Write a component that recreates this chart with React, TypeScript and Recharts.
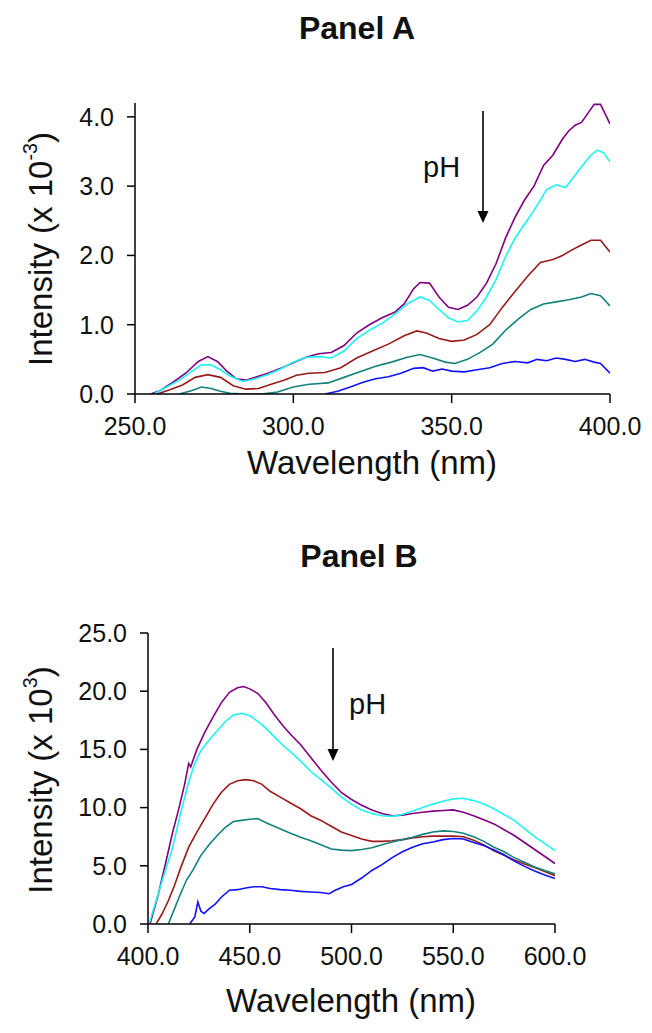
import { Line, LineChart, XAxis, YAxis } from "recharts";

// Excel-ish default series colours
const VIOLET = "#800080";
const TURQUOISE = "#1ef4f4";
const DARK_RED = "#991a1a";
const TEAL = "#13827c";
const BLUE = "#1010ff";
const FONT = '"Liberation Sans", Arial, sans-serif';

// Panel A – excitation spectra, [wavelength nm, intensity x10^-3]
const aViolet: [number, number][] = [
  [255, 0], [258, 0.05], [262, 0.17], [266, 0.3], [270, 0.47], [273, 0.54], [276, 0.47],
  [279, 0.33], [282, 0.22], [285, 0.2], [288, 0.24], [292, 0.3], [296, 0.37], [300, 0.45],
  [304, 0.53], [308, 0.58], [312, 0.6], [316, 0.7], [320, 0.88], [324, 1.0], [328, 1.1],
  [332, 1.18], [335, 1.3], [338, 1.52], [340, 1.61], [343, 1.6], [346, 1.4], [349, 1.25],
  [352, 1.22], [355, 1.28], [358, 1.4], [361, 1.6], [364, 1.88], [367, 2.25], [370, 2.55],
  [373, 2.8], [376, 3.0], [379, 3.3], [382, 3.45], [385, 3.68], [387, 3.8], [389, 3.88],
  [391, 3.92], [393, 4.05], [395, 4.18], [397, 4.18], [400, 3.9],
];
const aTurquoise: [number, number][] = [
  [256, 0], [260, 0.1], [264, 0.2], [268, 0.33], [271, 0.42], [274, 0.42], [277, 0.35],
  [280, 0.26], [284, 0.18], [288, 0.22], [292, 0.28], [296, 0.36], [300, 0.46], [304, 0.53],
  [308, 0.54], [312, 0.52], [316, 0.62], [320, 0.8], [324, 0.92], [328, 1.02], [332, 1.15],
  [336, 1.3], [340, 1.4], [343, 1.35], [346, 1.22], [349, 1.1], [352, 1.04], [355, 1.06],
  [358, 1.2], [361, 1.4], [364, 1.65], [367, 1.98], [370, 2.25], [373, 2.45], [376, 2.65],
  [380, 2.95], [383, 3.02], [386, 2.98], [388, 3.1], [391, 3.28], [394, 3.45], [396, 3.52],
  [398, 3.48], [400, 3.35],
];
const aDarkRed: [number, number][] = [
  [257, 0], [261, 0.06], [265, 0.13], [269, 0.24], [273, 0.28], [277, 0.24], [281, 0.12],
  [285, 0.07], [289, 0.08], [293, 0.14], [297, 0.2], [301, 0.27], [305, 0.3], [310, 0.31],
  [315, 0.38], [320, 0.52], [325, 0.62], [330, 0.72], [335, 0.84], [339, 0.91], [342, 0.88],
  [346, 0.8], [350, 0.76], [354, 0.78], [358, 0.86], [362, 1.0], [366, 1.25], [370, 1.48],
  [374, 1.7], [378, 1.9], [382, 1.94], [385, 2.0], [388, 2.08], [391, 2.15], [394, 2.22],
  [397, 2.22], [400, 2.05],
];
const aTeal: [number, number][] = [
  [264, 0], [268, 0.05], [271, 0.1], [274, 0.08], [277, 0.04], [280, 0.01], [285, 0],
  [290, 0], [295, 0.03], [300, 0.1], [305, 0.14], [311, 0.16], [316, 0.24], [321, 0.32],
  [326, 0.4], [331, 0.46], [336, 0.53], [340, 0.57], [344, 0.52], [348, 0.46], [351, 0.44],
  [355, 0.5], [359, 0.6], [363, 0.72], [367, 0.92], [371, 1.08], [375, 1.22], [379, 1.3],
  [383, 1.33], [387, 1.36], [391, 1.4], [394, 1.45], [397, 1.42], [400, 1.27],
];
const aBlue: [number, number][] = [
  [310, 0], [314, 0.04], [318, 0.1], [322, 0.17], [326, 0.22], [330, 0.25], [334, 0.3],
  [338, 0.37], [341, 0.38], [344, 0.33], [347, 0.36], [350, 0.33], [354, 0.32], [358, 0.35],
  [362, 0.38], [366, 0.44], [370, 0.47], [374, 0.45], [377, 0.5], [380, 0.48], [383, 0.52],
  [386, 0.5], [389, 0.47], [392, 0.5], [395, 0.46], [397, 0.44], [400, 0.3],
];

// Panel B – emission spectra, [wavelength nm, intensity x10^3]
const bViolet: [number, number][] = [
  [401, 0], [405, 2.5], [409, 5.5], [412, 7.8], [415, 9.8], [418, 12.0], [420, 13.8],
  [421, 13.5], [424, 15.0], [428, 16.5], [432, 17.8], [436, 19.0], [440, 19.9], [444, 20.3],
  [447, 20.4], [450, 20.2], [454, 19.8], [458, 19.0], [462, 18.0], [466, 17.1], [470, 16.3],
  [475, 15.4], [480, 14.3], [485, 13.2], [490, 12.2], [495, 11.3], [500, 10.7], [505, 10.2],
  [510, 9.8], [515, 9.5], [520, 9.3], [525, 9.35], [530, 9.5], [535, 9.6], [540, 9.7],
  [545, 9.75], [550, 9.8], [555, 9.6], [560, 9.3], [565, 8.95], [570, 8.6], [575, 8.1],
  [580, 7.6], [585, 7.0], [590, 6.4], [595, 5.8], [600, 5.2],
];
const bTurquoise: [number, number][] = [
  [400.5, 0], [404, 2.0], [408, 4.3], [412, 6.5], [416, 9.5], [420, 12.2], [423, 13.8],
  [426, 14.9], [430, 15.8], [434, 16.6], [438, 17.4], [442, 17.95], [446, 18.1], [450, 17.9],
  [454, 17.4], [458, 16.8], [462, 16.1], [466, 15.4], [470, 14.8], [475, 14.0], [480, 13.1],
  [485, 12.4], [490, 11.7], [495, 10.9], [500, 10.3], [505, 9.8], [510, 9.5], [515, 9.3],
  [520, 9.25], [525, 9.4], [530, 9.7], [535, 10.0], [540, 10.3], [545, 10.55], [550, 10.75],
  [555, 10.8], [560, 10.6], [565, 10.3], [570, 9.9], [575, 9.4], [580, 8.9], [585, 8.2],
  [590, 7.5], [595, 6.9], [600, 6.3],
];
const bDarkRed: [number, number][] = [
  [404, 0], [407, 0.9], [410, 2.0], [413, 3.3], [416, 4.8], [420, 6.6], [424, 7.9],
  [428, 9.1], [432, 10.3], [436, 11.3], [440, 12.0], [444, 12.3], [448, 12.4], [452, 12.3],
  [456, 12.0], [460, 11.4], [465, 10.9], [470, 10.4], [475, 9.9], [480, 9.3], [485, 8.9],
  [490, 8.4], [495, 7.9], [500, 7.6], [505, 7.3], [510, 7.1], [515, 7.1], [520, 7.15],
  [525, 7.25], [530, 7.4], [535, 7.5], [540, 7.55], [545, 7.55], [550, 7.55], [555, 7.5],
  [560, 7.2], [565, 6.8], [570, 6.3], [575, 5.9], [580, 5.5], [585, 5.15], [590, 4.85],
  [595, 4.5], [600, 4.15],
];
const bTeal: [number, number][] = [
  [410, 0], [413, 1.3], [416, 2.6], [419, 3.8], [422, 4.6], [426, 5.9], [430, 6.8],
  [434, 7.6], [438, 8.3], [442, 8.8], [446, 8.9], [450, 9.0], [454, 9.05], [458, 8.7],
  [462, 8.4], [466, 8.1], [470, 7.8], [475, 7.45], [480, 7.15], [485, 6.8], [490, 6.45],
  [495, 6.35], [500, 6.3], [505, 6.4], [510, 6.55], [515, 6.8], [520, 7.05], [525, 7.25],
  [530, 7.45], [535, 7.7], [540, 7.9], [545, 8.0], [550, 7.95], [555, 7.8], [560, 7.5],
  [565, 7.1], [570, 6.6], [575, 6.2], [580, 5.7], [585, 5.3], [590, 4.9], [595, 4.6],
  [600, 4.3],
];
const bBlue: [number, number][] = [
  [420.5, 0], [423, 0.6], [424.5, 1.9], [426, 1.1], [427.5, 0.9], [430, 1.3], [433, 1.7],
  [436, 2.3], [440, 2.9], [444, 2.95], [448, 3.1], [452, 3.2], [456, 3.2], [460, 3.05],
  [465, 2.95], [470, 2.9], [475, 2.8], [480, 2.75], [485, 2.7], [489, 2.6], [492, 2.9],
  [496, 3.2], [500, 3.4], [505, 3.95], [510, 4.6], [515, 5.1], [520, 5.7], [525, 6.2],
  [530, 6.6], [535, 6.9], [540, 7.05], [545, 7.25], [550, 7.35], [555, 7.3], [560, 7.0],
  [565, 6.75], [570, 6.35], [575, 5.95], [580, 5.4], [585, 4.95], [590, 4.55], [595, 4.2],
  [600, 3.9],
];

const aXTicks = [250, 300, 350, 400];
const aYTicks = [0, 1, 2, 3, 4];
const bXTicks = [400, 450, 500, 550, 600];
const bYTicks = [0, 5, 10, 15, 20, 25];

const TICK = { fontSize: 25, fill: "#111", fontFamily: FONT } as const;
const AXIS_LINE = { stroke: "#000", strokeWidth: 1.5 };

const toRows = (pts: [number, number][]) => pts.map(([w, v]) => ({ w, v }));
const fmt = (v: number) => Number(v).toFixed(1);

function Spectra({
  series,
  xDomain,
  xTicks,
  yDomain,
  yTicks,
  width,
  height,
  margin,
  yAxisWidth,
}: {
  series: { pts: [number, number][]; color: string; name: string }[];
  xDomain: [number, number];
  xTicks: number[];
  yDomain: [number, number];
  yTicks: number[];
  width: number;
  height: number;
  margin: { top: number; right: number; bottom: number; left: number };
  yAxisWidth: number;
}) {
  return (
    <LineChart width={width} height={height} margin={margin}>
      <XAxis
        type="number"
        dataKey="w"
        domain={xDomain}
        ticks={xTicks}
        allowDataOverflow
        tick={TICK}
        tickFormatter={fmt}
        tickSize={9}
        tickMargin={14}
        height={50}
        axisLine={AXIS_LINE}
        tickLine={AXIS_LINE}
      />
      <YAxis
        type="number"
        dataKey="v"
        domain={yDomain}
        ticks={yTicks}
        allowDataOverflow
        tick={TICK}
        tickFormatter={fmt}
        tickSize={8}
        tickMargin={13}
        width={yAxisWidth}
        axisLine={AXIS_LINE}
        tickLine={AXIS_LINE}
      />
      {series.map((s) => (
        <Line
          key={s.name}
          name={s.name}
          data={toRows(s.pts)}
          dataKey="v"
          type="linear"
          stroke={s.color}
          strokeWidth={1.6}
          dot={false}
          activeDot={false}
          isAnimationActive={false}
        />
      ))}
    </LineChart>
  );
}

function PhArrow({ x, y1, y2, textX, textY }: { x: number; y1: number; y2: number; textX: number; textY: number }) {
  return (
    <svg width={652} height={1033} style={{ position: "absolute", left: 0, top: 0, pointerEvents: "none" }}>
      <line x1={x} y1={y1} x2={x} y2={y2 - 10} stroke="#000" strokeWidth={1.6} />
      <polygon points={`${x - 5.5},${y2 - 12} ${x + 5.5},${y2 - 12} ${x},${y2}`} fill="#000" />
      <text x={textX} y={textY} fontSize={29} fontFamily={FONT} fill="#111">
        pH
      </text>
    </svg>
  );
}

const abs = (style: React.CSSProperties): React.CSSProperties => ({
  position: "absolute",
  fontFamily: FONT,
  color: "#111",
  lineHeight: 1,
  whiteSpace: "nowrap",
  transform: "translate(-50%, -50%)",
  ...style,
});

export default function App() {
  const seriesA = [
    { name: "pH 1", pts: aViolet, color: VIOLET },
    { name: "pH 2", pts: aTurquoise, color: TURQUOISE },
    { name: "pH 3", pts: aDarkRed, color: DARK_RED },
    { name: "pH 4", pts: aTeal, color: TEAL },
    { name: "pH 5", pts: aBlue, color: BLUE },
  ];
  const seriesB = [
    { name: "pH 1", pts: bViolet, color: VIOLET },
    { name: "pH 2", pts: bTurquoise, color: TURQUOISE },
    { name: "pH 3", pts: bDarkRed, color: DARK_RED },
    { name: "pH 4", pts: bTeal, color: TEAL },
    { name: "pH 5", pts: bBlue, color: BLUE },
  ];

  return (
    <div style={{ position: "absolute", left: 0, top: 0, width: 652, height: 1033, background: "#fff" }}>
      <div style={{ position: "absolute", left: 0, top: 0 }}>
        <Spectra
          series={seriesA}
          xDomain={[250, 400]}
          xTicks={aXTicks}
          yDomain={[0, 4.2]}
          yTicks={aYTicks}
          width={652}
          height={480}
          margin={{ top: 103, right: 42, bottom: 36, left: 0 }}
          yAxisWidth={135}
        />
      </div>
      <div style={{ position: "absolute", left: 0, top: 520 }}>
        <Spectra
          series={seriesB}
          xDomain={[400, 600]}
          xTicks={bXTicks}
          yDomain={[0, 25]}
          yTicks={bYTicks}
          width={652}
          height={513}
          margin={{ top: 113, right: 97, bottom: 59, left: 0 }}
          yAxisWidth={148}
        />
      </div>

      <div style={abs({ left: 357, top: 28, fontSize: 32, fontWeight: 700 })}>Panel A</div>
      <div style={abs({ left: 359, top: 556, fontSize: 32, fontWeight: 700 })}>Panel B</div>

      <div style={abs({ left: 372, top: 462, fontSize: 33 })}>Wavelength (nm)</div>
      <div style={abs({ left: 351, top: 1000, fontSize: 33 })}>Wavelength (nm)</div>

      <div style={abs({ left: 39, top: 249, fontSize: 33, transform: "translate(-50%, -50%) rotate(-90deg)" })}>
        Intensity (x 10<sup style={{ fontSize: "0.6em", verticalAlign: "0.75em" }}>-3</sup>)
      </div>
      <div style={abs({ left: 39, top: 780, fontSize: 33, transform: "translate(-50%, -50%) rotate(-90deg)" })}>
        Intensity (x 10<sup style={{ fontSize: "0.6em", verticalAlign: "0.75em" }}>3</sup>)
      </div>

      <PhArrow x={483} y1={111} y2={223} textX={423} textY={177} />
      <PhArrow x={333} y1={648} y2={761} textX={349} textY={714} />
    </div>
  );
}
